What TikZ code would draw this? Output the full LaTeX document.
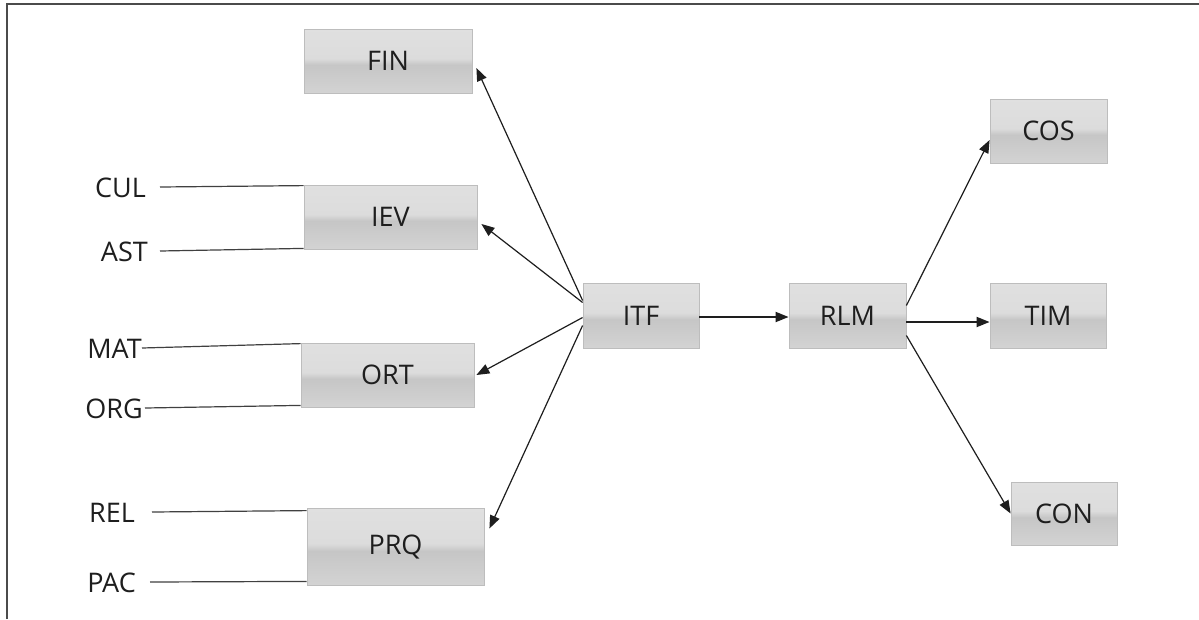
\documentclass[tikz,border=0pt]{standalone}
\usepackage{fontspec}
\setmainfont{Open Sans}
\usetikzlibrary{arrows.meta}
\definecolor{boxlo}{HTML}{D6D6D6}
\definecolor{boxmid}{HTML}{C6C6C6}
\definecolor{boxhi}{HTML}{DCDCDC}
\definecolor{boxtop}{HTML}{E4E4E4}
\definecolor{boxedge}{HTML}{BDBDBD}
\definecolor{ink}{HTML}{1E1E1E}
\pgfdeclareverticalshading{boxshade}{100bp}{color(0bp)=(boxlo); color(20bp)=(boxlo); color(47bp)=(boxmid); color(52bp)=(boxhi); color(100bp)=(boxtop)}
\begin{document}
\begin{tikzpicture}[x=1pt,y=-1pt,
  box/.style={draw=boxedge, line width=0.8pt, shading=boxshade, inner sep=0pt,
    font=\fontsize{27}{32}\selectfont, text=ink},
  lbl/.style={font=\fontsize{27}{32}\selectfont, text=ink, inner sep=0pt, anchor=east},
  arr/.style={draw=ink, line width=1.2pt, -{Triangle[length=13pt,width=10pt]}},
  feed/.style={draw=ink!85, line width=1.2pt}]
\useasboundingbox (0,0) rectangle (1199,619);
\fill[white] (0,0) rectangle (1199,619);
\draw[line width=1.6pt, draw=ink!80] (7,619) -- (7,4) -- (1199,4);
% boxes
\node[box, minimum width=168pt, minimum height=64pt] (fin) at (388,61) {FIN};
\node[box, minimum width=173pt, minimum height=64pt] (iev) at (390.5,217) {IEV};
\node[box, minimum width=173pt, minimum height=64pt] (ort) at (387.5,375) {ORT};
\node[box, minimum width=177pt, minimum height=77pt] (prq) at (395.5,546.5) {PRQ};
\node[box, minimum width=116pt, minimum height=65pt] (itf) at (641,315.5) {ITF};
\node[box, minimum width=117pt, minimum height=65pt] (rlm) at (847.5,315.5) {RLM};
\node[box, minimum width=117pt, minimum height=64pt] (cos) at (1048.5,131) {COS};
\node[box, minimum width=116pt, minimum height=65pt] (tim) at (1048,315.5) {TIM};
\node[box, minimum width=106pt, minimum height=63pt] (con) at (1064,513.5) {CON};
% input labels
\node[lbl] (cul) at (146,188) {CUL};
\node[lbl] (ast) at (148,252) {AST};
\node[lbl] (mat) at (142,349) {MAT};
\node[lbl] (org) at (143,409) {ORG};
\node[lbl] (rel) at (135,513) {REL};
\node[lbl] (pac) at (136,583) {PAC};
% input lines
\draw[feed] ([xshift=14pt,yshift=1pt]cul.east) -- ([yshift=-1pt]iev.north west);
\draw[feed] ([xshift=12pt,yshift=1pt]ast.east) -- ([yshift=1pt]iev.south west);
\draw[feed] ([yshift=1pt]mat.east) -- ([yshift=-1pt]ort.north west);
\draw[feed] ([xshift=2pt,yshift=1pt]org.east) -- ([yshift=2pt]ort.south west);
\draw[feed] ([xshift=17pt,yshift=1pt]rel.east) -- ([yshift=-3pt]prq.north west);
\draw[feed] ([xshift=14pt,yshift=1pt]pac.east) -- ([yshift=4pt]prq.south west);
% arrows from ITF
\draw[arr] ([yshift=15pt]itf.west) -- ([xshift=4pt,yshift=-7pt]fin.east);
\draw[arr] ([yshift=13pt]itf.west) -- ([xshift=4pt,yshift=-7pt]iev.east);
\draw[arr] ([yshift=-2pt]itf.west) -- ([xshift=2pt]ort.east);
\draw[arr] ([yshift=-10pt]itf.west) -- ([xshift=5pt,yshift=18pt]prq.east);
\draw[arr, line width=1.8pt] ([yshift=-1.5pt]itf.east) -- ([yshift=-1.5pt]rlm.west);
% arrows from RLM
\draw[arr] ([yshift=10pt]rlm.east) -- ([yshift=-9pt]cos.west);
\draw[arr, line width=1.8pt] ([yshift=-6.5pt]rlm.east) -- ([yshift=-6.5pt]tim.west);
\draw[arr] ([yshift=-20pt]rlm.east) -- (con.west);
\end{tikzpicture}
\end{document}
